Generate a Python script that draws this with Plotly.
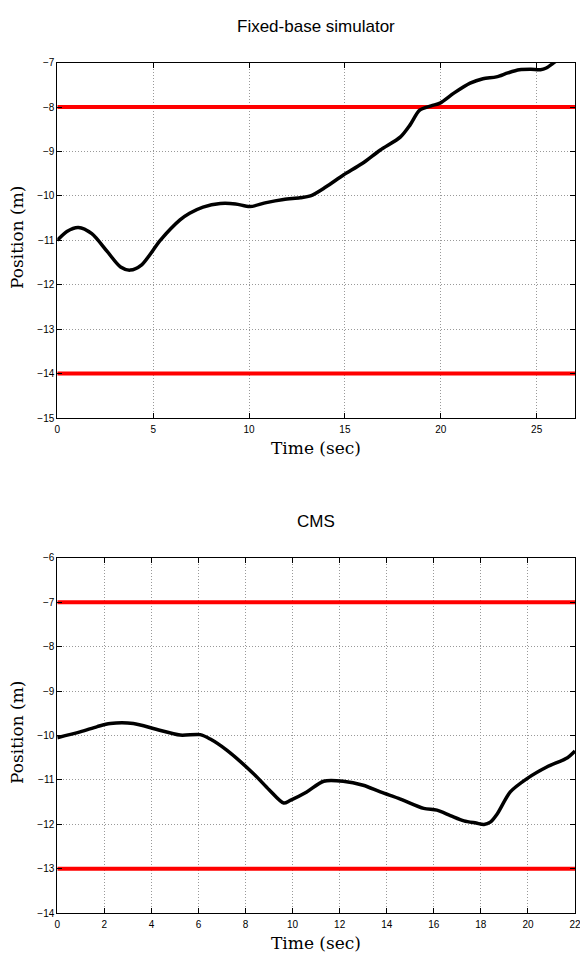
import plotly.graph_objects as go

# Top panel: Fixed-base simulator
t1 = [0, 0.5, 1.1, 1.8, 2.6, 3.3, 3.8, 4.4, 5.37, 6.4, 6.9, 7.6, 8.5, 9.3, 10.05, 10.9, 11.8, 12.65, 13.2, 14.0, 14.92, 15.9, 16.83, 17.9, 18.4, 18.9, 19.5, 19.96, 20.7, 21.53, 22.2, 22.9, 23.5, 24.1, 24.7, 25.2, 25.5, 25.9, 26.5, 27.0]
y1 = [-11.0, -10.8, -10.71, -10.85, -11.25, -11.6, -11.67, -11.55, -11.0, -10.54, -10.39, -10.25, -10.17, -10.18, -10.24, -10.15, -10.08, -10.04, -10.0, -9.8, -9.53, -9.27, -8.97, -8.67, -8.4, -8.07, -7.97, -7.91, -7.68, -7.46, -7.36, -7.32, -7.23, -7.16, -7.15, -7.16, -7.12, -7.0, -6.8, -6.6]
lim1_hi = -8
lim1_lo = -14
x1_range = [0, 27]
y1_range = [-15, -7]
x1_ticks = [0, 5, 10, 15, 20, 25]
y1_ticks = [-15, -14, -13, -12, -11, -10, -9, -8, -7]

# Bottom panel: CMS
t2 = [0, 0.97, 1.7, 2.25, 3.23, 4.2, 5.22, 6.07, 6.5, 7.2, 8.34, 9.0, 9.62, 9.9, 10.6, 11.32, 12.15, 13.0, 13.73, 14.58, 15.57, 16.13, 16.7, 17.28, 17.8, 18.13, 18.4, 18.7, 19.25, 19.96, 20.8, 21.68, 22.0]
y2 = [-10.05, -9.92, -9.8, -9.73, -9.73, -9.86, -9.99, -9.98, -10.08, -10.33, -10.86, -11.22, -11.52, -11.46, -11.27, -11.03, -11.03, -11.12, -11.27, -11.43, -11.64, -11.68, -11.8, -11.92, -11.97, -12.0, -11.95, -11.76, -11.27, -10.97, -10.71, -10.5, -10.35]
lim2_hi = -7
lim2_lo = -13
x2_range = [0, 22]
y2_range = [-14, -6]
x2_ticks = list(range(0, 23, 2))
y2_ticks = list(range(-14, -5))

W, H = 580, 956
xdom = [57.3 / W, 575 / W]
ydom1 = [1 - 418 / H, 1 - 62.7 / H]
ydom2 = [1 - 913.3 / H, 1 - 557.7 / H]

fig = go.Figure()

def add_panel(t, y, lo, hi, xr, xa, ya):
    fig.add_trace(go.Scatter(x=xr, y=[hi, hi], mode="lines", line=dict(color="#ff0000", width=4),
                             xaxis=xa, yaxis=ya, showlegend=False, hoverinfo="skip"))
    fig.add_trace(go.Scatter(x=xr, y=[lo, lo], mode="lines", line=dict(color="#ff0000", width=4),
                             xaxis=xa, yaxis=ya, showlegend=False, hoverinfo="skip"))
    fig.add_trace(go.Scatter(x=t, y=y, mode="lines", line=dict(color="black", width=3.5, shape="spline", smoothing=0.8),
                             xaxis=xa, yaxis=ya, showlegend=False))

add_panel(t1, y1, lim1_lo, lim1_hi, x1_range, "x", "y")
add_panel(t2, y2, lim2_lo, lim2_hi, x2_range, "x2", "y2")

axis_common = dict(showline=True, linecolor="black", linewidth=1, mirror="allticks",
                   ticks="inside", ticklen=5, tickcolor="black", tickwidth=1,
                   showgrid=True, gridcolor="#999999", griddash="1px,2px", gridwidth=1,
                   zeroline=False, automargin=False, ticklabeloverflow="allow",
                   tickfont=dict(family="Liberation Sans, Arial", size=10, color="black"))

fig.update_layout(
    width=W, height=H, margin=dict(l=0, r=0, t=0, b=0, autoexpand=False),
    paper_bgcolor="white", plot_bgcolor="white",
    xaxis=dict(domain=xdom, range=x1_range, tickvals=x1_ticks, anchor="y", ticklabelstandoff=2, **axis_common),
    yaxis=dict(domain=ydom1, range=y1_range, tickvals=y1_ticks, anchor="x", **axis_common),
    xaxis2=dict(domain=xdom, range=x2_range, tickvals=x2_ticks, anchor="y2", ticklabelstandoff=2, **axis_common),
    yaxis2=dict(domain=ydom2, range=y2_range, tickvals=y2_ticks, anchor="x2", **axis_common),
)

cx = (57.3 + 575) / 2 / W
ann = [
    dict(text="Fixed-base simulator", x=cx, y=1 - 26 / H, font=dict(family="Liberation Sans, Arial", size=17)),
    dict(text="CMS", x=cx, y=1 - 521 / H, font=dict(family="Liberation Sans, Arial", size=17)),
    dict(text="Time (sec)", x=cx, y=1 - 448 / H, font=dict(family="DejaVu Serif, serif", size=17)),
    dict(text="Time (sec)", x=cx, y=1 - 943 / H, font=dict(family="DejaVu Serif, serif", size=17)),
    dict(text="Position (m)", x=17 / W, y=1 - 238 / H, textangle=-90, font=dict(family="DejaVu Serif, serif", size=17)),
    dict(text="Position (m)", x=17 / W, y=1 - 733 / H, textangle=-90, font=dict(family="DejaVu Serif, serif", size=17)),
]
for a in ann:
    a.update(xref="paper", yref="paper", showarrow=False, xanchor="center", yanchor="middle")
    a["font"]["color"] = "black"
fig.update_layout(annotations=ann)

fig.write_html("out.html")
